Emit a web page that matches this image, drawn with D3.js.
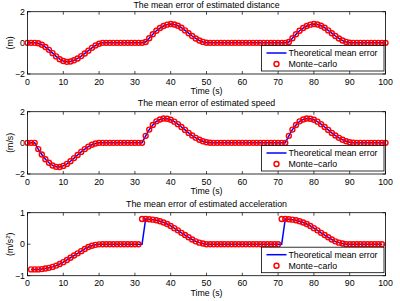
<!DOCTYPE html>
<html>
<head>
<meta charset="utf-8">
<script src="https://cdn.jsdelivr.net/npm/d3@7"></script>
<style>
  body { margin: 0; background: #fff; }
  svg { display: block; font-family: "Liberation Sans", Arial, sans-serif; }
</style>
</head>
<body>
<div class="chart"></div>
<script>
// data
var time = d3.range(0, 101);
var timeAcc = d3.range(1, 101);

var distance = [0, 0, 0, -0.03, -0.12, -0.27, -0.45, -0.66, -0.87, -1.05,
  -1.17, -1.22, -1.2, -1.12, -1.0, -0.85, -0.68, -0.5, -0.32, -0.17,
  -0.06, 0, 0, 0, 0, 0, 0, 0, 0, 0,
  0, 0, 0, 0.05, 0.3, 0.55, 0.78, 0.95, 1.08, 1.17,
  1.21, 1.18, 1.1, 0.97, 0.8, 0.62, 0.44, 0.28, 0.15, 0.06,
  0.01, 0, 0, 0, 0, 0, 0, 0, 0, 0,
  0, 0, 0, 0, 0, 0, 0, 0, 0, 0,
  0, 0, 0, 0.05, 0.3, 0.55, 0.78, 0.95, 1.08, 1.17,
  1.21, 1.18, 1.1, 0.97, 0.8, 0.62, 0.44, 0.28, 0.15, 0.06,
  0.01, 0, 0, 0, 0, 0, 0, 0, 0, 0,
  0];

var speed = [0, 0, 0, -0.4, -0.75, -1.05, -1.28, -1.45, -1.54, -1.55,
  -1.48, -1.35, -1.18, -0.98, -0.78, -0.58, -0.4, -0.24, -0.12, -0.04,
  0, 0, 0, 0, 0, 0, 0, 0, 0, 0,
  0, 0, 0, 0.45, 0.85, 1.15, 1.38, 1.5, 1.56, 1.55,
  1.48, 1.36, 1.2, 1.02, 0.83, 0.64, 0.47, 0.32, 0.2, 0.1,
  0.04, 0.01, 0, 0, 0, 0, 0, 0, 0, 0,
  0, 0, 0, 0, 0, 0, 0, 0, 0, 0,
  0, 0, 0, 0.45, 0.85, 1.15, 1.38, 1.5, 1.56, 1.55,
  1.48, 1.36, 1.2, 1.02, 0.83, 0.64, 0.47, 0.32, 0.2, 0.1,
  0.04, 0.01, 0, 0, 0, 0, 0, 0, 0, 0,
  0];

// theoretical acceleration, t = 1..100
var accTheory = [-0.8, -0.8, -0.8, -0.79, -0.77, -0.75, -0.72, -0.68, -0.63,
  -0.57, -0.5, -0.43, -0.36, -0.29, -0.22, -0.15, -0.09, -0.05, -0.02,
  -0.005, 0, 0, 0, 0, 0, 0, 0, 0, 0,
  0, 0, 0, 0.8, 0.79, 0.78, 0.76, 0.73, 0.69, 0.64,
  0.58, 0.51, 0.44, 0.36, 0.29, 0.22, 0.15, 0.09, 0.05, 0.02,
  0, 0, 0, 0, 0, 0, 0, 0, 0, 0,
  0, 0, 0, 0, 0, 0, 0, 0, 0, 0,
  0, 0, 0.8, 0.79, 0.78, 0.76, 0.73, 0.69, 0.64,
  0.58, 0.51, 0.44, 0.36, 0.29, 0.22, 0.15, 0.09, 0.05, 0.02,
  0, 0, 0, 0, 0, 0, 0, 0, 0, 0,
  0];

// monte-carlo acceleration, t = 1..100
var accMC = [-0.8, -0.8, -0.8, -0.79, -0.77, -0.75, -0.72, -0.68, -0.63,
  -0.57, -0.5, -0.43, -0.36, -0.29, -0.22, -0.15, -0.09, -0.05, -0.02,
  -0.005, 0, 0, 0, 0, 0, 0, 0, 0, 0,
  0, 0, 0.8, 0.8, 0.79, 0.78, 0.76, 0.73, 0.69, 0.64,
  0.58, 0.51, 0.44, 0.36, 0.29, 0.22, 0.15, 0.09, 0.05, 0.02,
  0, 0, 0, 0, 0, 0, 0, 0, 0, 0,
  0, 0, 0, 0, 0, 0, 0, 0, 0, 0,
  0, 0.8, 0.8, 0.79, 0.78, 0.76, 0.73, 0.69, 0.64,
  0.58, 0.51, 0.44, 0.36, 0.29, 0.22, 0.15, 0.09, 0.05, 0.02,
  0, 0, 0, 0, 0, 0, 0, 0, 0, 0,
  0];

var xTicks = [0, 10, 20, 30, 40, 50, 60, 70, 80, 90, 100];

var panels = [
  {title: "The mean error of estimated distance", unit: "(m)", t: time, line: distance, mc: distance,
   yDomain: [-2, 2], yTicks: [-2, 0, 2], top: 11.7, bottom: 74},
  {title: "The mean error of estimated speed", unit: "(m/s)", t: time, line: speed, mc: speed,
   yDomain: [-2, 2], yTicks: [-2, 0, 2], top: 111.7, bottom: 174},
  {title: "The mean error of estimated acceleration", unit: "(m/s2)", t: timeAcc, line: accTheory, mc: accMC,
   yDomain: [-1, 1], yTicks: [-1, 0, 1], top: 212.7, bottom: 275.7}
];

var svgWidth = 400;
var svgHeight = 301;
var left = 27.5, right = 385.5;
var fs = 8.8;

var svg = d3.select(".chart").append("svg")
  .attr("width", svgWidth)
  .attr("height", svgHeight);

var x = d3.scaleLinear().domain([0, 100]).range([left, right]);

panels.forEach(function(p) {
  var y = d3.scaleLinear().domain(p.yDomain).range([p.bottom, p.top]);
  var g = svg.append("g");

  // ticks, inside, on all four sides
  var tl = 3;
  xTicks.forEach(function(v) {
    g.append("line").attr("x1", x(v)).attr("x2", x(v)).attr("y1", p.bottom).attr("y2", p.bottom - tl)
      .attr("stroke", "#000").attr("stroke-width", 0.7);
    g.append("line").attr("x1", x(v)).attr("x2", x(v)).attr("y1", p.top).attr("y2", p.top + tl)
      .attr("stroke", "#000").attr("stroke-width", 0.7);
    g.append("text").attr("x", x(v)).attr("y", p.bottom + 10.5)
      .attr("text-anchor", "middle").attr("font-size", fs).text(v);
  });
  p.yTicks.forEach(function(v) {
    g.append("line").attr("x1", left).attr("x2", left + tl).attr("y1", y(v)).attr("y2", y(v))
      .attr("stroke", "#000").attr("stroke-width", 0.7);
    g.append("line").attr("x1", right).attr("x2", right - tl).attr("y1", y(v)).attr("y2", y(v))
      .attr("stroke", "#000").attr("stroke-width", 0.7);
    g.append("text").attr("x", left - 2.5).attr("y", y(v) + 3.2)
      .attr("text-anchor", "end").attr("font-size", fs).text(v < 0 ? "\u2212" + Math.abs(v) : v);
  });

  // theoretical line
  var line = d3.line().x(function(d, i) { return x(p.t[i]); }).y(function(d) { return y(d); });
  g.append("path").datum(p.line).attr("d", line)
    .attr("fill", "none").attr("stroke", "#0000ff").attr("stroke-width", 1.5);

  // monte-carlo markers
  g.selectAll("circle.mc").data(p.mc).enter().append("circle")
    .attr("class", "mc")
    .attr("cx", function(d, i) { return x(p.t[i]); })
    .attr("cy", function(d) { return y(d); })
    .attr("r", 2.5)
    .attr("fill", "none").attr("stroke", "#ff0000").attr("stroke-width", 1.4);

  // box
  g.append("rect").attr("x", left).attr("y", p.top).attr("width", right - left).attr("height", p.bottom - p.top)
    .attr("fill", "none").attr("stroke", "#000").attr("stroke-width", 0.8);

  // title and labels (top title nudged down so it is not clipped)
  g.append("text").attr("x", (left + right) / 2).attr("y", Math.max(p.top - 5.5, 7.6))
    .attr("text-anchor", "middle").attr("font-size", fs).text(p.title);
  g.append("text").attr("x", (left + right) / 2).attr("y", p.bottom + 20)
    .attr("text-anchor", "middle").attr("font-size", fs).text("Time (s)");

  var yl = g.append("text")
    .attr("transform", "translate(" + 13 + "," + ((p.top + p.bottom) / 2) + ") rotate(-90)")
    .attr("text-anchor", "middle").attr("font-size", fs);
  if (p.unit === "(m/s2)") {
    yl.append("tspan").text("(m/s");
    yl.append("tspan").attr("font-size", fs * 0.7).attr("dy", -3.5).text("2");
    yl.append("tspan").attr("dy", 3.5).text(")");
  } else {
    yl.text(p.unit);
  }

  // legend
  var lx = 261.5, lw = 122.5, ly = p.bottom - 28.5, lh = 25.5;
  var lg = g.append("g");
  lg.append("rect").attr("x", lx).attr("y", ly).attr("width", lw).attr("height", lh)
    .attr("fill", "#fff").attr("stroke", "#000").attr("stroke-width", 0.8);
  lg.append("line").attr("x1", lx + 5).attr("x2", lx + 25).attr("y1", ly + 7.5).attr("y2", ly + 7.5)
    .attr("stroke", "#0000ff").attr("stroke-width", 1.5);
  lg.append("text").attr("x", lx + 27).attr("y", ly + 10.5).attr("font-size", fs).text("Theoretical mean error");
  lg.append("circle").attr("cx", lx + 15).attr("cy", ly + 18.5).attr("r", 2.5)
    .attr("fill", "none").attr("stroke", "#ff0000").attr("stroke-width", 1.4);
  lg.append("text").attr("x", lx + 27).attr("y", ly + 21.5).attr("font-size", fs).text("Monte\u2212carlo");
});
</script>
</body>
</html>
